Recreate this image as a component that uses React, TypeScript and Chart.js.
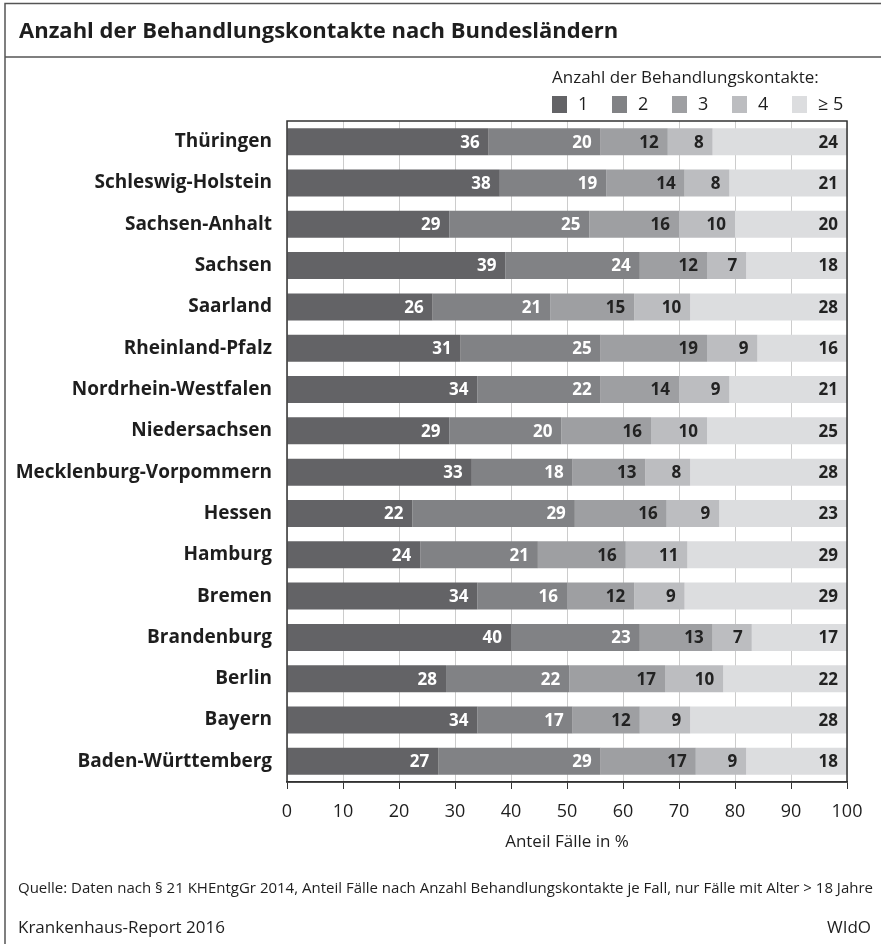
import React, { useEffect, useRef } from 'react';
import { Chart, registerables } from 'chart.js';

Chart.register(...registerables);

const TITLE = 'Anzahl der Behandlungskontakte nach Bundesländern';
const LEGEND_TITLE = 'Anzahl der Behandlungskontakte:';
const X_TITLE = 'Anteil Fälle in %';
const SOURCE = 'Quelle: Daten nach § 21 KHEntgGr 2014, Anteil Fälle nach Anzahl Behandlungskontakte je Fall, nur Fälle mit Alter > 18 Jahre';
const REPORT = 'Krankenhaus-Report 2016';
const PUBLISHER = 'WIdO';

const categories = [
  'Thüringen',
  'Schleswig-Holstein',
  'Sachsen-Anhalt',
  'Sachsen',
  'Saarland',
  'Rheinland-Pfalz',
  'Nordrhein-Westfalen',
  'Niedersachsen',
  'Mecklenburg-Vorpommern',
  'Hessen',
  'Hamburg',
  'Bremen',
  'Brandenburg',
  'Berlin',
  'Bayern',
  'Baden-Württemberg',
];

const seriesNames = ['1', '2', '3', '4', '≥ 5'];

const kontakte1 = [36, 38, 29, 39, 26, 31, 34, 29, 33, 22.4, 23.8, 34, 40, 28.4, 34, 27];
const kontakte2 = [20, 19, 25, 24, 21, 25, 22, 20, 18, 29, 21, 16, 23, 22, 17, 29];
const kontakte3 = [12, 14, 16, 12, 15, 19, 14, 16, 13, 16.4, 15.7, 12, 13, 17.1, 12, 17];
const kontakte4 = [8, 8, 10, 7, 10, 9, 9, 10, 8, 9.4, 11, 9, 7, 10.4, 9, 9];
const kontakte5 = [24, 21, 20, 18, 28, 16, 21, 25, 28, 22.8, 28.5, 29, 17, 22.1, 28, 18];

const seriesValues = [kontakte1, kontakte2, kontakte3, kontakte4, kontakte5];
const seriesColors = ['#636366', '#818285', '#9e9fa2', '#bcbdc0', '#dcdddf'];
const labelColors = ['#ffffff', '#ffffff', '#222222', '#222222', '#222222'];

const X_MIN = 0;
const X_MAX = 100;
const X_STEP = 10;

const COND = '"Open Sans", sans-serif';
const BOLD = '"Open Sans", "DejaVu Sans", sans-serif';
const TEXT = '#1e1e1e';

const decorPlugin = {
  id: 'decor',
  beforeDraw(chart: any) {
    const ctx = chart.ctx as CanvasRenderingContext2D;
    const W = chart.width;
    const H = chart.height;
    ctx.save();
    ctx.fillStyle = '#ffffff';
    ctx.fillRect(0, 0, W, H);
    // frame
    ctx.strokeStyle = '#555555';
    ctx.lineWidth = 1.5;
    ctx.beginPath();
    ctx.moveTo(W + 2, 3.5);
    ctx.lineTo(5, 3.5);
    ctx.lineTo(5, H + 2);
    ctx.moveTo(5, 57);
    ctx.lineTo(W + 2, 57);
    ctx.stroke();
    // title
    ctx.fillStyle = TEXT;
    ctx.textBaseline = 'alphabetic';
    ctx.textAlign = 'left';
    ctx.font = `bold 22px ${BOLD}`;
    ctx.fillText(TITLE, 19, 38);
    // legend
    ctx.font = `17px ${COND}`;
    ctx.fillText(LEGEND_TITLE, 552, 83);
    const ds = chart.data.datasets;
    ds.forEach((d: any, i: number) => {
      const x = 552 + i * 60;
      ctx.fillStyle = d.backgroundColor;
      ctx.fillRect(x, 96, 15, 17);
      ctx.fillStyle = TEXT;
      ctx.font = `18px ${COND}`;
      ctx.textBaseline = 'middle';
      ctx.fillText(d.label, x + 26, 105);
    });
    // footer
    ctx.textBaseline = 'alphabetic';
    ctx.font = `15px ${COND}`;
    ctx.fillStyle = TEXT;
    ctx.fillText(SOURCE, 18, 893);
    ctx.font = `17px ${COND}`;
    ctx.fillText(REPORT, 18, 933);
    ctx.textAlign = 'right';
    ctx.fillText(PUBLISHER, 871, 933);
    ctx.restore();
  },
  afterDatasetsDraw(chart: any) {
    const ctx = chart.ctx as CanvasRenderingContext2D;
    ctx.save();
    ctx.font = `bold 17px ${BOLD}`;
    ctx.textAlign = 'right';
    ctx.textBaseline = 'middle';
    chart.data.datasets.forEach((d: any, i: number) => {
      const meta = chart.getDatasetMeta(i);
      meta.data.forEach((el: any, j: number) => {
        ctx.fillStyle = labelColors[i];
        ctx.fillText(String(Math.round(d.data[j])), el.x - 9, el.y + 1);
      });
    });
    ctx.restore();
  },
  afterDraw(chart: any) {
    const ctx = chart.ctx as CanvasRenderingContext2D;
    const a = chart.chartArea;
    ctx.save();
    ctx.strokeStyle = '#333333';
    ctx.lineWidth = 1.5;
    ctx.strokeRect(a.left, a.top, a.right - a.left, a.bottom - a.top);
    ctx.restore();
  },
};

export default function App() {
  const ref = useRef<HTMLCanvasElement>(null);
  useEffect(() => {
    const chart = new Chart(ref.current as HTMLCanvasElement, {
      type: 'bar',
      data: {
        labels: categories,
        datasets: seriesValues.map((vals, i) => ({
          label: seriesNames[i],
          data: vals,
          backgroundColor: seriesColors[i],
          borderWidth: 0,
          barPercentage: 0.653,
          categoryPercentage: 1,
        })),
      },
      options: {
        responsive: false,
        animation: false,
        indexAxis: 'y',
        layout: { padding: { left: 0, right: 34, top: 121, bottom: 92 } },
        plugins: {
          legend: { display: false },
          tooltip: { enabled: false },
          title: { display: false },
        },
        scales: {
          x: {
            stacked: true,
            min: X_MIN,
            max: X_MAX,
            ticks: { stepSize: X_STEP, font: { family: COND, size: 18 }, color: TEXT, padding: 12 },
            grid: { color: '#cccccc', lineWidth: 1, tickColor: '#333333', tickLength: 7 },
            border: { color: '#333333', width: 1.5 },
            title: { display: true, text: X_TITLE, font: { family: COND, size: 17 }, color: TEXT, padding: 0 },
            afterFit: (s: any) => {
              s.height = 70;
            },
          },
          y: {
            stacked: true,
            grid: { display: false, drawTicks: false },
            border: { display: false },
            ticks: {
              autoSkip: false,
              font: { family: BOLD, size: 19, weight: 'bold' },
              color: TEXT,
              padding: 15,
            },
            afterFit: (s: any) => {
              s.width = 287;
            },
          },
        },
      },
      plugins: [decorPlugin],
    } as any);
    return () => chart.destroy();
  }, []);
  return (
    <div style={{ position: 'fixed', left: 0, top: 0, width: 881, height: 944, background: '#fff', overflow: 'hidden' }}>
      <canvas ref={ref} width={881} height={944} style={{ display: 'block', width: 881, height: 944 }} />
    </div>
  );
}
